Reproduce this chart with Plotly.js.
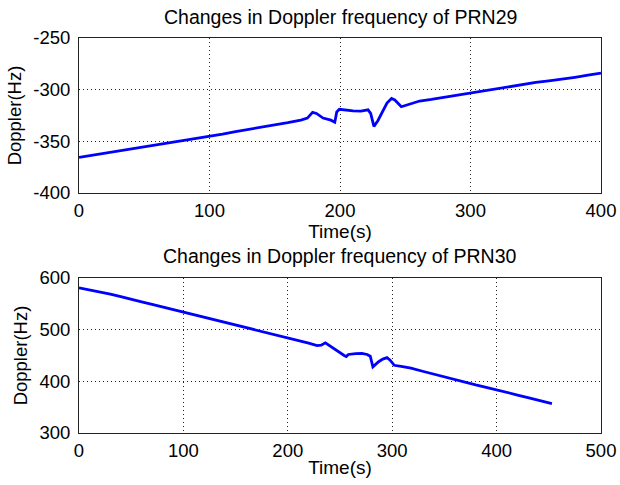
<!DOCTYPE html>
<html>
<head>
<meta charset="utf-8">
<script src="https://cdn.plot.ly/plotly-3.0.1.min.js"></script>
<style>
  html, body { margin: 0; padding: 0; background: #ffffff; }
  #chart { width: 620px; height: 485px; }
</style>
</head>
<body>
<div id="chart"></div>
<script>
// ---- Data: PRN29 (top panel) ----
const PRN29_TIME = [0, 5, 10, 20, 30, 40, 50, 60, 70, 80, 90, 100, 110, 120, 130, 140, 150, 160, 170, 175,
  179, 182, 187, 193, 196, 197.5, 199.5, 205, 210, 216, 221.5, 223.5, 226, 229, 236, 239.5, 242, 247, 251,
  261, 270, 277, 287, 297, 307, 320, 330, 340, 350, 360, 370, 380, 390, 400];
const PRN29_DOPPLER = [-365.5, -364.5, -363, -361, -359, -357.5, -355, -353, -351, -349, -347, -345, -343, -340.5, -338.5, -336, -334, -332, -329.5, -327.5,
  -322, -323, -327.5, -329.5, -331.5, -321.5, -319, -320, -320.5, -320.8, -319.5, -323, -335.5, -330, -313, -308.5, -310, -316.5, -315,
  -311, -309.5, -308, -306, -304, -301.5, -299, -297, -295, -293, -291.5, -290, -288, -286, -284];

// ---- Data: PRN30 (bottom panel) ----
const PRN30_TIME = [0, 10, 20, 30, 40, 50, 60, 70, 80, 90, 100, 110, 120, 130, 140, 150, 160, 170, 180, 190,
  200, 210, 220, 228, 232, 236, 242, 248, 254, 256, 258, 265, 271, 276, 279, 281.5, 287, 291, 295, 298,
  302, 310, 318, 330, 340, 350, 360, 370, 380, 390, 400, 410, 420, 430, 440, 447, 453];
const PRN30_DOPPLER = [581, 577, 574, 569, 564, 559.5, 554, 549, 544, 539, 534, 529, 524, 519, 514, 509, 504, 499.5, 495, 490,
  485, 479, 474, 469, 470, 474.5, 466, 459, 450, 448, 452, 453.5, 454, 452, 448.5, 428, 438, 443, 446, 441,
  431, 428.5, 425.5, 419, 413.5, 408.5, 403, 397.5, 393, 388.5, 384, 379, 373.5, 368.5, 363.5, 360, 357];

// ---- Axis ticks and texts ----
const TOP_X_TICKS = [0, 100, 200, 300, 400];
const TOP_Y_TICKS = [-400, -350, -300, -250];
const BOT_X_TICKS = [0, 100, 200, 300, 400, 500];
const BOT_Y_TICKS = [300, 400, 500, 600];
const TITLES = ['Changes in Doppler frequency of PRN29', 'Changes in Doppler frequency of PRN30'];
const X_LABEL = 'Time(s)';
const Y_LABEL = 'Doppler(Hz)';

const FONT = 'Liberation Sans, Arial, Helvetica, sans-serif';
const LINE_BLUE = '#0000ff';

const traces = [
  { x: PRN29_TIME, y: PRN29_DOPPLER, xaxis: 'x', yaxis: 'y', type: 'scatter', mode: 'lines',
    line: { color: LINE_BLUE, width: 2.8 }, hoverinfo: 'x+y' },
  { x: PRN30_TIME, y: PRN30_DOPPLER, xaxis: 'x2', yaxis: 'y2', type: 'scatter', mode: 'lines',
    line: { color: LINE_BLUE, width: 2.8 }, hoverinfo: 'x+y' }
];

function xAxis(range, ticks, anchor) {
  return {
    domain: [0, 1], anchor: anchor, range: range, tickvals: ticks, ticktext: ticks.map(String),
    showgrid: true, gridcolor: '#222', griddash: '1px,3px', gridwidth: 1,
    showline: true, linecolor: '#222', linewidth: 1, mirror: true, zeroline: false,
    ticks: '', ticklabelstandoff: 1, tickfont: { family: FONT, size: 18.5, color: '#000' },
    title: { text: X_LABEL, font: { family: FONT, size: 19, color: '#000' }, standoff: 0 },
    fixedrange: true
  };
}
function yAxis(range, ticks, anchor, domain) {
  return {
    domain: domain, anchor: anchor, range: range, tickvals: ticks, ticktext: ticks.map(String),
    showgrid: true, gridcolor: '#222', griddash: '1px,3px', gridwidth: 1,
    showline: true, linecolor: '#222', linewidth: 1, mirror: true, zeroline: false,
    ticks: '', ticklabelstandoff: 4, tickfont: { family: FONT, size: 18.5, color: '#000' },
    title: { text: Y_LABEL, font: { family: FONT, size: 18.5, color: '#000' }, standoff: 6 },
    fixedrange: true
  };
}

const layout = {
  width: 620, height: 485,
  margin: { l: 79, r: 19, t: 38, b: 52 },
  paper_bgcolor: '#ffffff', plot_bgcolor: '#ffffff',
  showlegend: false,
  font: { family: FONT, color: '#000' },
  xaxis: xAxis([0, 400], TOP_X_TICKS, 'y'),
  yaxis: yAxis([-400, -250], TOP_Y_TICKS, 'x', [0.6076, 1]),
  xaxis2: xAxis([0, 500], BOT_X_TICKS, 'y2'),
  yaxis2: yAxis([300, 600], BOT_Y_TICKS, 'x2', [0, 0.3924]),
  annotations: [
    { text: TITLES[0], xref: 'x domain', yref: 'y domain', x: 0.5, y: 1.135, xanchor: 'center', yanchor: 'middle',
      showarrow: false, font: { family: FONT, size: 19.5, color: '#000' } },
    { text: TITLES[1], xref: 'x2 domain', yref: 'y2 domain', x: 0.5, y: 1.142, xanchor: 'center', yanchor: 'middle',
      showarrow: false, font: { family: FONT, size: 19.5, color: '#000' } }
  ]
};

Plotly.newPlot('chart', traces, layout, { staticPlot: true, displayModeBar: false });
</script>
</body>
</html>
